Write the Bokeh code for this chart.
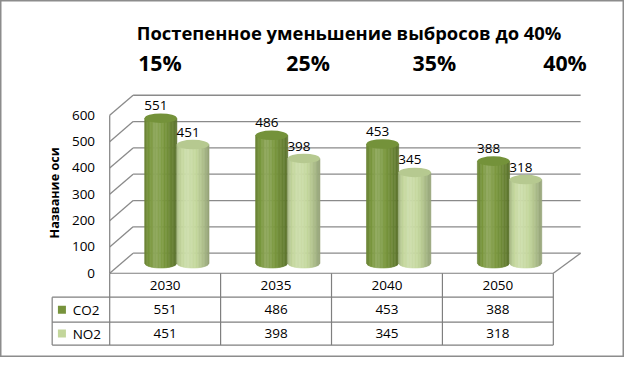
import math
from bokeh.plotting import figure
from bokeh.models import Range1d, Label
from bokeh.core.properties import value
from bokeh.embed import file_html
from bokeh.resources import INLINE

# ---------------- data ----------------
title_text = "Постепенное уменьшение выбросов до 40%"
reductions = ["15%", "25%", "35%", "40%"]
years = ["2030", "2035", "2040", "2050"]
co2 = [551, 486, 453, 388]
no2 = [451, 398, 345, 318]
series_names = ["CO2", "NO2"]
y_ticks = [0, 100, 200, 300, 400, 500, 600]
axis_title = "Название оси"

# ---------------- styles / geometry ----------------
FONT = "Open Sans"
W, H = 624, 357
REF_W, REF_H = 640, 373
SX, SY = W / REF_W, H / REF_H
PX_U = 113.75          # reference pixels per category (front plane)
PX_V = 0.275           # reference pixels per value unit (front plane)
FX, FY = 112, 285      # reference position of front-left floor corner
DU = 24 / PX_U         # depth offset (back wall), x
DUR = 28 / PX_U        # depth offset at right edge
DV = 21 / PX_V         # depth offset, y
BW = 16.5 / PX_U       # half bar width
EH = 5 / PX_V          # half ellipse height
GRID = "#8a8a8a"
TABLE = "#7f7f7f"
series_colors = [(122, 152, 62), (197, 216, 158)]
top_colors = ["#74923a", "#b6c990"]
legend_colors = ["#77933c", "#c3d69b"]

def fs(px):
    return "%.1fpx" % (px * (SX + SY) / 2)

p = figure(width=W, height=H, output_backend="svg", toolbar_location=None,
           x_range=Range1d(-FX / PX_U, (REF_W - FX) / PX_U),
           y_range=Range1d(-(REF_H - FY) / PX_V, FY / PX_V),
           min_border=0)
p.axis.visible = False
p.grid.visible = False
p.outline_line_color = "#8c8c8c"
p.outline_line_width = 2
p.background_fill_color = "white"
p.border_fill_color = "white"

n_cat = len(years)
vmax = max(y_ticks)

# ---------------- walls / gridlines ----------------
gx0, gy0, gx1, gy1 = [], [], [], []
for t in y_ticks:
    gx0.append(DU); gy0.append(t + DV); gx1.append(n_cat + DUR); gy1.append(t + DV)
    gx0.append(0); gy0.append(t); gx1.append(DU); gy1.append(t + DV)
gx0.append(0); gy0.append(0); gx1.append(0); gy1.append(vmax)
gx0.append(n_cat); gy0.append(0); gx1.append(n_cat + DUR); gy1.append(DV)
p.segment(gx0, gy0, gx1, gy1, line_color=GRID, line_width=1.3)

p.text(x=[-15 / PX_U] * len(y_ticks), y=y_ticks, text=[str(t) for t in y_ticks],
       text_font=value(FONT), text_font_size=fs(14), text_color="#000000",
       text_align="right", text_baseline="middle")

# ---------------- cylinders ----------------
def shade(rgb, f):
    if f >= 1:
        return "#%02x%02x%02x" % tuple(int(min(255, c + (255 - c) * (f - 1) * 1.6)) for c in rgb)
    return "#%02x%02x%02x" % tuple(int(c * f) for c in rgb)

profile = [(0.0, 0.86), (0.12, 0.97), (0.32, 1.10), (0.5, 1.05), (0.72, 0.94), (0.9, 0.83), (1.0, 0.75)]

def prof(t):
    for (a, fa), (b, fb) in zip(profile[:-1], profile[1:]):
        if a <= t <= b:
            return fa + (fb - fa) * (t - a) / (b - a)
    return profile[-1][1]

NSTRIP = 22
label_x, label_y, label_t = [], [], []
for i in range(n_cat):
    for s, vals in enumerate([co2, no2]):
        cx = i + 0.5 + DU / 2 + (-BW if s == 0 else BW)
        base = DV / 2
        top = base + vals[i]
        xs, ys, cols = [], [], []
        for k in range(NSTRIP):
            s0 = -1 + 2 * k / NSTRIP
            s1 = -1 + 2 * (k + 1) / NSTRIP
            r0 = math.sqrt(max(0.0, 1 - s0 * s0))
            r1 = math.sqrt(max(0.0, 1 - s1 * s1))
            xs.append([cx + BW * s0, cx + BW * s1, cx + BW * s1, cx + BW * s0])
            ys.append([base - EH * r0, base - EH * r1, top, top])
            cols.append(shade(series_colors[s], prof((k + 0.5) / NSTRIP)))
        p.patches(xs, ys, fill_color=cols, line_color=cols, line_width=0.6)
        p.ellipse(x=[cx], y=[top], width=2 * BW, height=2 * EH,
                  fill_color=top_colors[s], line_color=None)
        label_x.append(cx - 5 / PX_U)
        label_y.append(top + 13 / PX_V)
        label_t.append(str(vals[i]))

p.text(x=label_x, y=label_y, text=label_t, text_font=value(FONT),
       text_font_size=fs(14), text_color="#000000",
       text_align="center", text_baseline="middle")

# ---------------- data table ----------------
LEG = -59 / PX_U
row_lines = [0, -25 / PX_V, -51 / PX_V, -75 / PX_V]
tx0, ty0, tx1, ty1 = [], [], [], []
tx0.append(0); ty0.append(row_lines[0]); tx1.append(n_cat); ty1.append(row_lines[0])
for r in row_lines[1:]:
    tx0.append(LEG); ty0.append(r); tx1.append(n_cat); ty1.append(r)
for c in range(n_cat + 1):
    tx0.append(c); ty0.append(row_lines[0]); tx1.append(c); ty1.append(row_lines[-1])
tx0.append(LEG); ty0.append(row_lines[1]); tx1.append(LEG); ty1.append(row_lines[-1])
p.segment(tx0, ty0, tx1, ty1, line_color=TABLE, line_width=1.2)

row_mid = [(a + b) / 2 for a, b in zip(row_lines[:-1], row_lines[1:])]
cat_x = [i + 0.5 for i in range(n_cat)]
p.text(x=cat_x, y=[row_mid[0]] * n_cat, text=years, text_font=value(FONT),
       text_font_size=fs(14), text_color="#000000", text_align="center",
       text_baseline="middle")
for s, vals in enumerate([co2, no2]):
    p.text(x=cat_x, y=[row_mid[s + 1]] * n_cat, text=[str(v) for v in vals],
           text_font=value(FONT), text_font_size=fs(14), text_color="#000000",
           text_align="center", text_baseline="middle")
p.scatter(x=[-49 / PX_U] * 2, y=row_mid[1:], marker="square", size=8,
          fill_color=legend_colors, line_color=None)
p.text(x=[-38 / PX_U] * 2, y=row_mid[1:], text=series_names, text_font=value(FONT),
       text_font_size=fs(14), text_color="#000000", text_align="left",
       text_baseline="middle")

# ---------------- titles ----------------
def sx(X):
    return X * SX

def sy(Y):
    return (REF_H - Y) * SY

p.add_layout(Label(x=sx(357.5), y=sy(33), x_units="screen", y_units="screen",
                   text=title_text, text_font=FONT, text_font_size=fs(19),
                   text_font_style="bold", text_align="center",
                   text_baseline="alphabetic", text_color="#000000"))
for txt, cx in zip(reductions, [163.5, 315.5, 445, 579]):
    p.add_layout(Label(x=sx(cx), y=sy(65), x_units="screen", y_units="screen",
                       text=txt, text_font=FONT, text_font_size=fs(22),
                       text_font_style="bold", text_align="center",
                       text_baseline="alphabetic", text_color="#000000"))
p.add_layout(Label(x=sx(55), y=sy(201), x_units="screen", y_units="screen",
                   text=axis_title, text_font=FONT, text_font_size=fs(13),
                   text_font_style="bold", text_align="center",
                   text_baseline="middle", angle=math.pi / 2,
                   text_color="#000000"))

open("out.html", "w").write(file_html(p, INLINE))
